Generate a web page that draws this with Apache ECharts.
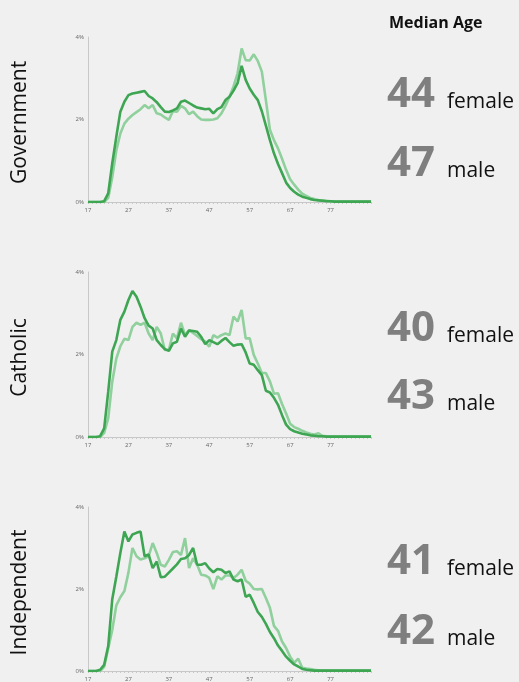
<!DOCTYPE html>
<html>
<head>
<meta charset="utf-8">
<script src="https://cdn.jsdelivr.net/npm/echarts@6/dist/echarts.min.js"></script>
<style>
    html, body { margin: 0; padding: 0; background: #f0f0f0; }
    #chartWrap { width: 519px; height: 682px; }
</style>
</head>
<body>
<div id="chartWrap"></div>
<script>
// ages 17..87
const ages = [];
for (let a = 17; a <= 87; a++) ages.push(String(a));
const xTickLabels = ['17', '27', '37', '47', '57', '67', '77'];
const yTicks = [0, 2, 4];

const sectors = ['Government', 'Catholic', 'Independent'];
const medianFemale = [44, 40, 41];
const medianMale = [47, 43, 42];

// % of staff at each age (ages 17..87)
const govFemale = [0, 0, 0, 0, 0.02, 0.21, 0.94, 1.58, 2.19, 2.43, 2.59, 2.63, 2.65, 2.67, 2.69, 2.57, 2.51, 2.42, 2.3, 2.19,
    2.18, 2.22, 2.27, 2.43, 2.46, 2.4, 2.34, 2.29, 2.27, 2.25, 2.26, 2.15, 2.25, 2.3, 2.47, 2.55, 2.7, 2.88, 3.3, 2.96,
    2.75, 2.6, 2.47, 2.2, 1.85, 1.5, 1.18, 0.92, 0.7, 0.47, 0.34, 0.25, 0.18, 0.13, 0.1, 0.07, 0.05, 0.04, 0.03, 0.02,
    0.02, 0.01, 0.01, 0.01, 0.01, 0.01, 0.01, 0.01, 0.01, 0.01, 0.01];
const govMale = [0, 0, 0, 0, 0, 0.1, 0.6, 1.25, 1.66, 1.9, 2.02, 2.11, 2.18, 2.25, 2.35, 2.27, 2.35, 2.15, 2.12, 2.05,
    1.99, 2.2, 2.19, 2.33, 2.27, 2.13, 2.19, 2.08, 2.0, 1.99, 1.99, 2.0, 2.03, 2.15, 2.33, 2.55, 2.8, 3.12, 3.72, 3.44,
    3.43, 3.58, 3.42, 3.16, 2.47, 1.75, 1.5, 1.3, 1.05, 0.78, 0.55, 0.42, 0.3, 0.2, 0.15, 0.1, 0.07, 0.05, 0.04, 0.03,
    0.02, 0.01, 0.01, 0.01, 0.01, 0.01, 0.01, 0.01, 0.01, 0.01, 0.01];
const catFemale = [0, 0, 0, 0.02, 0.21, 1.1, 2.07, 2.35, 2.84, 3.04, 3.32, 3.54, 3.4, 3.16, 2.88, 2.7, 2.63, 2.35, 2.23, 2.13,
    2.09, 2.27, 2.31, 2.63, 2.43, 2.58, 2.57, 2.55, 2.43, 2.25, 2.35, 2.3, 2.25, 2.33, 2.4, 2.3, 2.21, 2.24, 2.25, 2.05,
    1.78, 1.75, 1.62, 1.5, 1.12, 1.08, 0.95, 0.78, 0.53, 0.3, 0.19, 0.14, 0.11, 0.08, 0.06, 0.04, 0.03, 0.02, 0.02, 0.01,
    0.01, 0.01, 0.01, 0.01, 0.01, 0.01, 0.01, 0.01, 0.01, 0.01, 0.01];
const catMale = [0, 0, 0, 0, 0.1, 0.45, 1.34, 1.9, 2.2, 2.38, 2.35, 2.67, 2.77, 2.72, 2.77, 2.51, 2.35, 2.67, 2.51, 2.11,
    2.11, 2.51, 2.39, 2.77, 2.47, 2.59, 2.52, 2.45, 2.37, 2.31, 2.19, 2.47, 2.41, 2.47, 2.51, 2.47, 2.92, 2.8, 3.08, 2.39,
    2.39, 1.99, 1.78, 1.55, 1.55, 1.35, 1.05, 1.06, 0.8, 0.57, 0.32, 0.24, 0.2, 0.15, 0.11, 0.08, 0.06, 0.09, 0.03, 0.02,
    0.01, 0.01, 0.01, 0.01, 0.01, 0.01, 0.01, 0.01, 0.01, 0.01, 0.01];
const indFemale = [0, 0, 0, 0.03, 0.15, 0.61, 1.75, 2.3, 2.88, 3.4, 3.16, 3.33, 3.37, 3.4, 2.8, 2.84, 2.51, 2.67, 2.29, 2.3,
    2.4, 2.5, 2.6, 2.73, 2.75, 2.83, 3.0, 2.59, 2.59, 2.63, 2.5, 2.41, 2.49, 2.47, 2.39, 2.43, 2.23, 2.19, 2.23, 1.81,
    1.86, 1.66, 1.44, 1.32, 1.15, 0.95, 0.8, 0.62, 0.49, 0.35, 0.25, 0.16, 0.11, 0.05, 0.03, 0.02, 0.01, 0.01, 0.01, 0.01,
    0.01, 0.01, 0.01, 0.01, 0.01, 0.01, 0.01, 0.01, 0.01, 0.01, 0.01];
const indMale = [0, 0, 0, 0, 0.1, 0.55, 1.0, 1.6, 1.8, 1.95, 2.4, 3.0, 2.8, 2.72, 2.75, 2.8, 3.12, 2.88, 2.59, 2.55,
    2.71, 2.9, 2.92, 2.83, 3.24, 2.51, 2.75, 2.59, 2.35, 2.33, 2.27, 2.0, 2.31, 2.23, 2.33, 2.33, 2.27, 2.35, 2.47, 2.2,
    2.13, 2.0, 1.99, 2.0, 1.78, 1.54, 1.1, 0.98, 0.72, 0.56, 0.35, 0.2, 0.3, 0.08, 0.06, 0.05, 0.03, 0.02, 0.01, 0.01,
    0.01, 0.01, 0.01, 0.01, 0.01, 0.01, 0.01, 0.01, 0.01, 0.01, 0.01];

const femaleData = [govFemale, catFemale, indFemale];
const maleData = [govMale, catMale, indMale];

const darkGreen = '#3ea653';
const lightGreen = '#8fd09c';
const gridTops = [37, 272, 507];
const gridH = 165;

let grids = [], xAxes = [], yAxes = [], series = [], graphics = [];

gridTops.forEach(function (top, i) {
    grids.push({left: 88, top: top, width: 283, height: gridH});
    xAxes.push({
        type: 'category',
        gridIndex: i,
        data: ages,
        boundaryGap: false,
        axisLine: {lineStyle: {color: '#c8c8c8', width: 1}},
        axisTick: {show: true, interval: 0, length: 2, lineStyle: {color: '#c8c8c8'}},
        axisLabel: {
            interval: function (idx, val) { return xTickLabels.indexOf(val) >= 0; },
            fontSize: 6, color: '#666', margin: 5, fontFamily: 'Open Sans'
        },
        splitLine: {show: false}
    });
    yAxes.push({
        type: 'value',
        gridIndex: i,
        min: yTicks[0], max: yTicks[yTicks.length - 1], interval: 2,
        axisLine: {show: true, lineStyle: {color: '#c8c8c8', width: 1}},
        axisTick: {show: false},
        splitLine: {show: false},
        axisLabel: {formatter: '{value}%', fontSize: 6, color: '#666', margin: 4, fontFamily: 'Open Sans'}
    });
    series.push({
        name: 'male', type: 'line', xAxisIndex: i, yAxisIndex: i,
        data: maleData[i], symbol: 'none', smooth: false,
        lineStyle: {color: lightGreen, width: 2.6}
    });
    series.push({
        name: 'female', type: 'line', xAxisIndex: i, yAxisIndex: i,
        data: femaleData[i], symbol: 'none', smooth: false,
        lineStyle: {color: darkGreen, width: 2.6}
    });

    // sector name, rotated
    graphics.push({
        type: 'text', x: 20, y: top + gridH / 2 + 3, rotation: Math.PI / 2,
        style: {text: sectors[i], fill: '#111', font: '21px "Open Sans"', textAlign: 'center', textVerticalAlign: 'middle'}
    });
});

// median ages on the right
const femaleBase = [108, 342, 575];
const maleBase = [177, 410, 645];
for (let i = 0; i < 3; i++) {
    graphics.push({type: 'text', x: 387, y: femaleBase[i] - 13,
        style: {text: String(medianFemale[i]), fill: '#7f7f7f', font: 'bold 42px "Open Sans"', textVerticalAlign: 'middle'}});
    graphics.push({type: 'text', x: 447, y: femaleBase[i] - 6,
        style: {text: 'female', fill: '#111', font: '21px "Open Sans"', textVerticalAlign: 'middle'}});
    graphics.push({type: 'text', x: 387, y: maleBase[i] - 13,
        style: {text: String(medianMale[i]), fill: '#7f7f7f', font: 'bold 42px "Open Sans"', textVerticalAlign: 'middle'}});
    graphics.push({type: 'text', x: 447, y: maleBase[i] - 6,
        style: {text: 'male', fill: '#111', font: '21px "Open Sans"', textVerticalAlign: 'middle'}});
}
graphics.push({type: 'text', x: 389, y: 23,
    style: {text: 'Median Age', fill: '#111', font: 'bold 16px "Open Sans"', textVerticalAlign: 'middle'}});

const myChart = echarts.init(document.getElementById('chartWrap'));
myChart.setOption({
    backgroundColor: '#f0f0f0',
    animation: false,
    grid: grids,
    xAxis: xAxes,
    yAxis: yAxes,
    series: series,
    graphic: graphics
});
</script>
</body>
</html>
